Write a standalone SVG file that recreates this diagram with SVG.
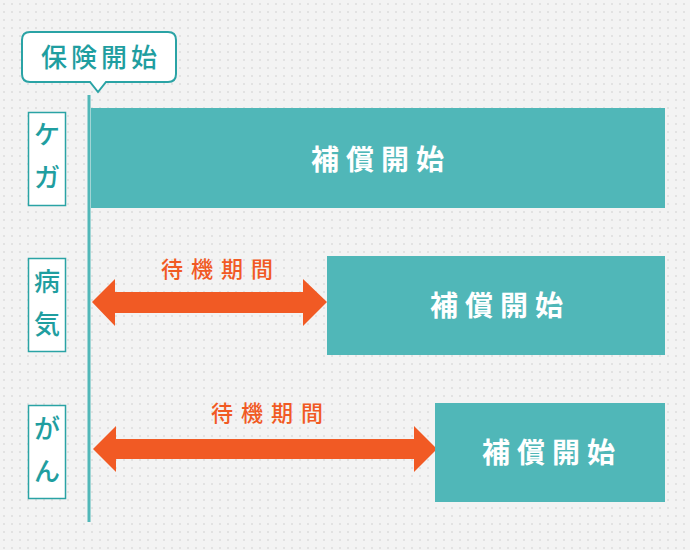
<svg xmlns="http://www.w3.org/2000/svg" width="690" height="550" viewBox="0 0 690 550">
<defs>
<pattern id="dots" width="8" height="8" patternUnits="userSpaceOnUse">
<rect x="3" y="3" width="2" height="2" fill="#e2e2e2"/>
</pattern>
<style>
.lbl{fill:#fff;stroke:#2aa3a5;stroke-width:1.5}
.lt{font-family:"Noto Sans CJK JP","Noto Sans",sans-serif;font-size:26px;fill:#1f9ea0;text-anchor:middle;font-weight:500}
.bar{fill:#50b7b8}
.bt{font-family:"Noto Sans CJK JP","Noto Sans",sans-serif;font-size:28px;fill:#fff;text-anchor:middle;font-weight:bold;letter-spacing:7px}
.arr{fill:#f15a24}
.at{font-family:"Noto Sans CJK JP","Noto Sans",sans-serif;font-size:22px;fill:#f15a24;text-anchor:middle;font-weight:500;letter-spacing:8px}
</style>
</defs>
<rect width="690" height="550" fill="#f3f3f3"/>
<rect width="690" height="550" fill="url(#dots)"/>
<g id="start">
<path d="M30,32 H168 Q176,32 176,40 V74 Q176,82 168,82 H106 L98,92 L90,82 H30 Q22,82 22,74 V40 Q22,32 30,32 Z" fill="#fff" stroke="#2aa3a5" stroke-width="2"/>
<text x="101" y="67" class="lt" font-size="27" letter-spacing="4">保険開始</text>
</g>
<g id="connectors">
<rect x="87.5" y="95" width="3" height="427" fill="#50b7b8"/>
<path class="arr" d="M92,302 L115,279 V292 H303 V279 L327,302 L303,326 V313 H115 V326 Z"/>
<path class="arr" d="M93,449 L116,426 V439 H414 V426 L437,449 L414,472 V459 H116 V472 Z"/>
<text x="221" y="277" class="at">待機期間</text>
<text x="271" y="421" class="at">待機期間</text>
</g>
<g id="injury">
<rect class="lbl" x="28.5" y="112.5" width="37" height="93"/>
<text x="47" y="144" class="lt">ケ</text>
<text x="47" y="187" class="lt">ガ</text>
<rect class="bar" x="91" y="108" width="574" height="100"/>
<text x="381" y="170" class="bt">補償開始</text>
</g>
<g id="illness">
<rect class="lbl" x="28.5" y="258.5" width="37" height="93"/>
<text x="47" y="291" class="lt">病</text>
<text x="47" y="334" class="lt">気</text>
<rect class="bar" x="327" y="256" width="338" height="99"/>
<text x="500" y="316" class="bt">補償開始</text>
</g>
<g id="cancer">
<rect class="lbl" x="28.5" y="405.5" width="37" height="93"/>
<text x="47" y="438" class="lt">が</text>
<text x="47" y="481" class="lt">ん</text>
<rect class="bar" x="435" y="403" width="230" height="99"/>
<text x="552" y="463" class="bt">補償開始</text>
</g>
</svg>
